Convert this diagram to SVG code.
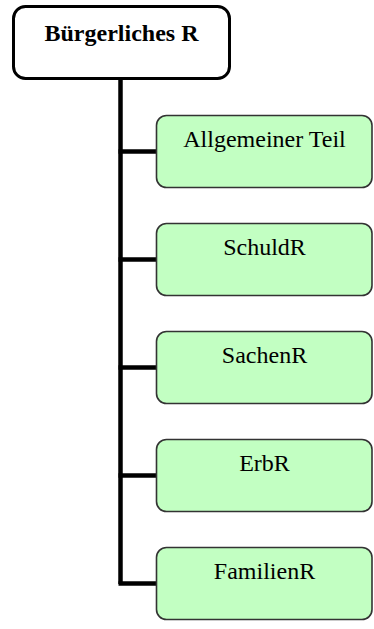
<svg xmlns="http://www.w3.org/2000/svg" width="374" height="629" viewBox="0 0 374 629">
  <style>
    .root { fill: #ffffff; stroke: #000000; stroke-width: 3; }
    .child { fill: #c2ffc2; stroke: #333333; stroke-width: 1.6; }
    .label { font-family: "Liberation Serif", "Times New Roman", serif; font-size: 24px; fill: #000000; text-anchor: middle; }
    .bold { font-weight: bold; }
    .wire { stroke: #000000; stroke-width: 4.5; fill: none; }
  </style>
  <rect width="374" height="629" fill="#ffffff"/>

  <!-- tree connectors -->
  <g id="connectors">
    <path class="wire" d="M120.5 79 V584"/>
    <path class="wire" d="M118.5 151.5 H157"/>
    <path class="wire" d="M118.5 259.5 H157"/>
    <path class="wire" d="M118.5 367.5 H157"/>
    <path class="wire" d="M118.5 475.5 H157"/>
    <path class="wire" d="M118.5 583.5 H157"/>
  </g>

  <g id="buergerliches-r">
    <rect class="root" x="13.5" y="6.5" width="216" height="72" rx="12"/>
    <text class="label bold" x="121.5" y="41">Bürgerliches R</text>
  </g>

  <g id="allgemeiner-teil">
    <rect class="child" x="156.5" y="115.5" width="215.5" height="72" rx="10"/>
    <text class="label" x="264.5" y="146.5">Allgemeiner Teil</text>
  </g>

  <g id="schuldr">
    <rect class="child" x="156.5" y="223.5" width="215.5" height="72" rx="10"/>
    <text class="label" x="264.5" y="254.5">SchuldR</text>
  </g>

  <g id="sachenr">
    <rect class="child" x="156.5" y="331.5" width="215.5" height="72" rx="10"/>
    <text class="label" x="264.5" y="362.5">SachenR</text>
  </g>

  <g id="erbr">
    <rect class="child" x="156.5" y="439.5" width="215.5" height="72" rx="10"/>
    <text class="label" x="264.5" y="470.5">ErbR</text>
  </g>

  <g id="familienr">
    <rect class="child" x="156.5" y="547.5" width="215.5" height="72" rx="10"/>
    <text class="label" x="264.5" y="578.5">FamilienR</text>
  </g>
</svg>
